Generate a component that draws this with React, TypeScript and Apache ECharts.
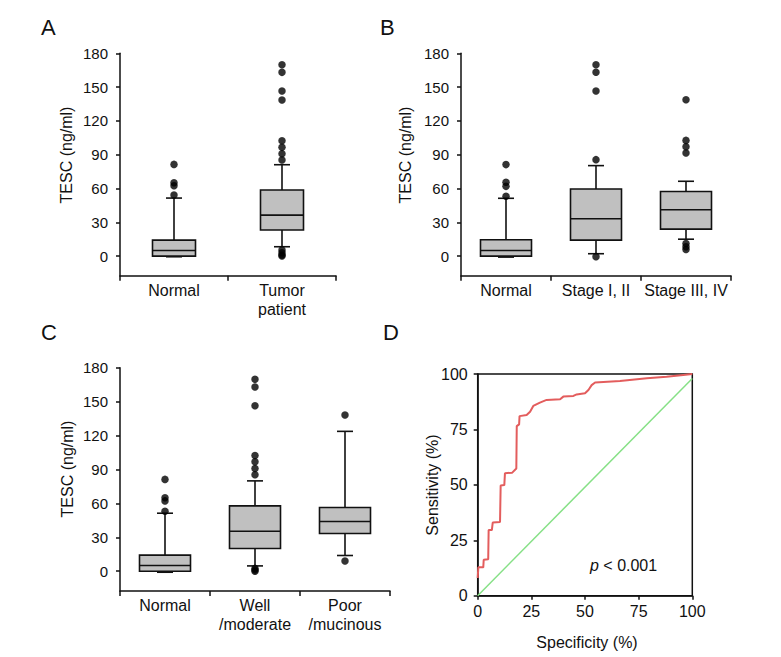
import React, { useEffect, useRef } from "react";
import * as echarts from "echarts";

// ---------- Data ----------
const yTicks = [0, 30, 60, 90, 120, 150, 180];

// Panel A
const catsA = ["Normal", "Tumor\npatient"];
// [lowerWhisker, Q1, median, Q3, upperWhisker]
const boxesA = [
  [-0.6, 0, 5.0, 14.2, 51.5],
  [8.3, 23.1, 36.4, 58.6, 81.1],
];
const outliersA = [
  [81.4, 65.1, 62.4, 54.2],
  [169.9, 163.1, 146.5, 138.5, 102.4, 96.5, 90.8, 85.3, 5.5, 3, 1, 0],
];

// Panel B
const catsB = ["Normal", "Stage I, II", "Stage III, IV"];
const boxesB = [
  [-0.9, 0, 5.0, 14.5, 51.3],
  [2.1, 14.2, 33.1, 59.6, 80.3],
  [15.0, 23.9, 41.1, 57.3, 66.4],
];
const outliersB = [
  [81.2, 65.5, 61.9, 53.1],
  [169.9, 163.2, 146.6, 85.6, -0.5],
  [138.7, 102.7, 97.1, 91.5, 11.2, 8.3, 5.9],
];

// Panel C
const catsC = ["Normal", "Well\n/moderate", "Poor\n/mucinous"];
const boxesC = [
  [-0.9, 0, 5.0, 14.2, 51.3],
  [4.7, 20.1, 35.4, 57.8, 79.9],
  [13.9, 33.4, 44.0, 56.4, 123.7],
];
const outliersC = [
  [81.2, 64.9, 62.2, 53.1],
  [169.7, 162.9, 146.3, 102.4, 96.8, 90.9, 85.3, 2.5, 1, 0],
  [138.1, 9.1],
];

// Panel D (ROC): specificity-axis value, sensitivity
const rocX = [0, 0.3, 2.6, 2.8, 4.9, 5.1, 6.6, 7.0, 10.4, 10.7, 12.4, 12.7, 16.1, 18.0, 18.2, 19.3, 19.5, 22.8, 24.4, 25.9, 29.0, 32.1, 38.4, 39.9, 44.6, 46.1, 50.0, 51.6, 53.1, 54.7, 66.3, 78.8, 88.0, 95.8, 100];
const rocY = [8.0, 12.8, 12.8, 16.2, 16.4, 29.6, 29.6, 33.0, 33.2, 49.7, 49.9, 55.2, 55.5, 57.4, 76.5, 77.3, 81.0, 81.5, 83.0, 85.6, 87.1, 88.3, 88.6, 89.8, 90.1, 90.8, 91.3, 92.8, 95.0, 96.2, 96.8, 98.1, 98.8, 99.6, 100];
const refX = [0, 100];
const refY = [0, 98];

// ---------- Styling ----------
const FONT = "'Liberation Sans', Arial, sans-serif";
const INK = "#111";
const BOX_FILL = "#c0c0c0";

function boxRender(boxW: number, capW: number) {
  return (params: any, api: any) => {
    const ci = api.value(0);
    const lo = api.coord([ci, api.value(1)]);
    const q1 = api.coord([ci, api.value(2)]);
    const med = api.coord([ci, api.value(3)]);
    const q3 = api.coord([ci, api.value(4)]);
    const hi = api.coord([ci, api.value(5)]);
    const x = lo[0];
    const ls = { stroke: INK, lineWidth: 1.6 };
    return {
      type: "group",
      children: [
        { type: "line", shape: { x1: x, y1: q1[1], x2: x, y2: lo[1] }, style: ls },
        { type: "line", shape: { x1: x, y1: q3[1], x2: x, y2: hi[1] }, style: ls },
        { type: "line", shape: { x1: x - capW / 2, y1: lo[1], x2: x + capW / 2, y2: lo[1] }, style: ls },
        { type: "line", shape: { x1: x - capW / 2, y1: hi[1], x2: x + capW / 2, y2: hi[1] }, style: ls },
        {
          type: "rect",
          shape: { x: x - boxW / 2, y: q3[1], width: boxW, height: q1[1] - q3[1] },
          style: { fill: BOX_FILL, stroke: INK, lineWidth: 1.6 },
        },
        { type: "line", shape: { x1: x - boxW / 2, y1: med[1], x2: x + boxW / 2, y2: med[1] }, style: ls },
      ],
    };
  };
}

const catAxis = (gridIndex: number, data: string[]) => ({
  type: "category",
  gridIndex,
  data,
  boundaryGap: true,
  axisLine: { onZero: false, lineStyle: { color: INK, width: 1.5 } },
  axisTick: { show: true, length: 5, alignWithLabel: false, lineStyle: { color: INK, width: 1.5 } },
  axisLabel: { fontSize: 16, fontFamily: FONT, color: INK, margin: 5, lineHeight: 19, interval: 0 },
  splitLine: { show: false },
});

const boxValueAxis = (gridIndex: number) => ({
  type: "value",
  gridIndex,
  min: -17.5,
  max: 180,
  axisLine: { show: true, lineStyle: { color: INK, width: 1.5 } },
  axisTick: { show: true, length: 4, customValues: yTicks, lineStyle: { color: INK, width: 1.5 } },
  axisLabel: { fontSize: 15, fontFamily: FONT, color: INK, margin: 12, customValues: yTicks },
  splitLine: { show: false },
});

const boxSeries = (idx: number, boxes: number[][], outs: number[][], boxW: number) => [
  {
    type: "custom",
    xAxisIndex: idx,
    yAxisIndex: idx,
    renderItem: boxRender(boxW, 16),
    data: boxes.map((b, i) => [i, ...b]),
    encode: { x: 0, y: [1, 2, 3, 4, 5] },
    z: 2,
  },
  {
    type: "scatter",
    xAxisIndex: idx,
    yAxisIndex: idx,
    symbol: "circle",
    symbolSize: 7.5,
    itemStyle: { color: "#000" },
    data: outs.flatMap((arr, i) => arr.map((v) => [i, v])),
    z: 3,
  },
];

const rocAxis = (gridIndex: number, isX: boolean) => ({
  type: "value",
  gridIndex,
  min: 0,
  max: 100,
  interval: 25,
  axisLine: { show: true, onZero: false, lineStyle: { color: INK, width: 1.5 } },
  axisTick: { show: true, length: 4, lineStyle: { color: INK, width: 1.5 } },
  axisLabel: { fontSize: 16, fontFamily: FONT, color: INK, margin: isX ? 8 : 10 },
  splitLine: { show: false },
});

const txt = (text: string, x: number, y: number, size: number, extra: any = {}) => ({
  type: "text",
  x,
  y,
  rotation: extra.rotation || 0,
  style: {
    text,
    fontSize: size,
    fontFamily: FONT,
    fill: INK,
    textAlign: extra.align || "left",
    textVerticalAlign: extra.valign || "top",
    rich: extra.rich,
  },
});

export default function App() {
  const ref = useRef<HTMLDivElement>(null);
  useEffect(() => {
    if (!ref.current) return;
    const chart = echarts.init(ref.current, null, { renderer: "svg" });
    const option: any = {
      animation: false,
      backgroundColor: "#fff",
      grid: [
        { left: 120, top: 53.3, width: 216, height: 222.5 },
        { left: 461, top: 53.3, width: 270, height: 222.5 },
        { left: 120, top: 367.7, width: 270, height: 223.3 },
        { left: 477.7, top: 374, width: 214.6, height: 221.7, show: true, borderColor: INK, borderWidth: 1.5, backgroundColor: "transparent" },
      ],
      xAxis: [catAxis(0, catsA), catAxis(1, catsB), catAxis(2, catsC), rocAxis(3, true)],
      yAxis: [boxValueAxis(0), boxValueAxis(1), boxValueAxis(2), rocAxis(3, false)],
      series: [
        ...boxSeries(0, boxesA, outliersA, 43),
        ...boxSeries(1, boxesB, outliersB, 51),
        ...boxSeries(2, boxesC, outliersC, 51),
        {
          type: "line",
          xAxisIndex: 3,
          yAxisIndex: 3,
          showSymbol: false,
          lineStyle: { color: "#86e086", width: 1.5 },
          data: refX.map((x, i) => [x, refY[i]]),
          z: 2,
        },
        {
          type: "line",
          xAxisIndex: 3,
          yAxisIndex: 3,
          showSymbol: false,
          lineStyle: { color: "#e35d5d", width: 2 },
          data: rocX.map((x, i) => [x, rocY[i]]),
          z: 3,
        },
      ],
      graphic: [
        txt("A", 41, 16, 22),
        txt("B", 380, 16, 22),
        txt("C", 41, 321, 22),
        txt("D", 383, 321, 22),
        txt("TESC (ng/ml)", 66, 155, 16, { rotation: Math.PI / 2, align: "center", valign: "middle" }),
        txt("TESC (ng/ml)", 405, 155, 16, { rotation: Math.PI / 2, align: "center", valign: "middle" }),
        txt("TESC (ng/ml)", 67, 469, 16, { rotation: Math.PI / 2, align: "center", valign: "middle" }),
        txt("Sensitivity (%)", 432, 485, 16, { rotation: Math.PI / 2, align: "center", valign: "middle" }),
        txt("Specificity (%)", 587, 642, 16, { align: "center", valign: "middle" }),
        txt("{i|p} < 0.001", 590, 565, 16, {
          valign: "middle",
          rich: { i: { fontStyle: "italic", fontSize: 16, fontFamily: FONT, fill: INK } },
        }),
      ],
    };
    chart.setOption(option);
    return () => chart.dispose();
  }, []);
  return (
    <div
      ref={ref}
      style={{ position: "fixed", left: 0, top: 0, width: 781, height: 657, background: "#fff" }}
    />
  );
}
